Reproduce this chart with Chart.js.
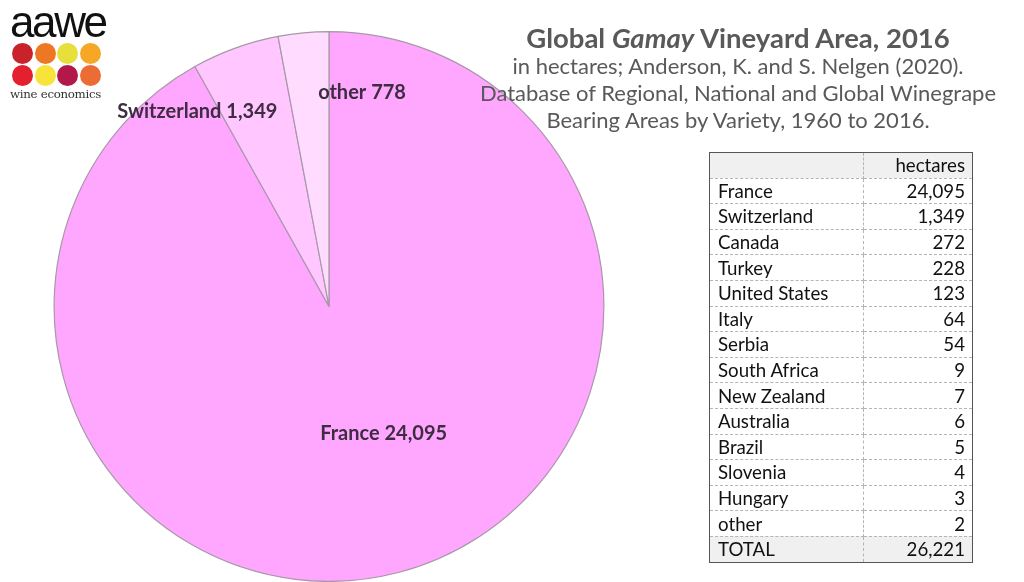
<!DOCTYPE html>
<html>
<head>
<meta charset="utf-8">
<script src="https://cdn.jsdelivr.net/npm/chart.js@4/dist/chart.umd.min.js"></script>
<style>
  body { margin: 0; background: #fff; font-family: Lato, "Open Sans", sans-serif; }
  #wrap { position: relative; width: 1024px; height: 582px; overflow: hidden; background: #fff; }
  #mycanvas { position: absolute; left: 0; top: 0; }
  #logo { position: absolute; left: 10px; top: 2px; width: 100px; }
  #logo .word { font-family: "Liberation Sans", Arial, sans-serif; font-size: 44px; letter-spacing: -2.4px; line-height: 40px; color: #111; }
  #logo .dots { position: relative; height: 46px; }
  #logo .dot { position: absolute; width: 21px; height: 21px; border-radius: 50%; }
  #logo .sub { font-family: "DejaVu Serif", serif; font-size: 11.8px; color: #333; margin-top: -1px; letter-spacing: -0.3px; }
  #title { position: absolute; left: 458px; width: 560px; top: 24px; text-align: center; color: #595959; }
  #title .t { font-weight: bold; font-size: 27.5px; line-height: 28px; }
  #title .s { font-size: 22px; line-height: 27px; }
  #tbl { position: absolute; left: 709px; top: 152px; border-collapse: collapse; border: 1.5px solid #555; font-size: 18.7px; color: #111; }
  #tbl td { border: 1px dashed #b5b5b5; height: 24.6px; padding: 0 7px 0 8px; line-height: 20px; }
  #tbl td.n { text-align: right; }
  #tbl tr.g td { background: #f0f0f0; }
</style>
</head>
<body>
<div id="wrap">
  <canvas id="mycanvas" width="1024" height="582"></canvas>
  <div id="logo">
    <div class="word">aawe</div>
    <div class="dots" id="dots"></div>
    <div class="sub">wine economics</div>
  </div>
  <div id="title">
    <div class="t">Global <i>Gamay</i> Vineyard Area, 2016</div>
    <div class="s">in hectares; Anderson, K. and S. Nelgen (2020).</div>
    <div class="s">Database of Regional, National and Global Winegrape</div>
    <div class="s">Bearing Areas by Variety, 1960 to 2016.</div>
  </div>
  <table id="tbl"></table>
</div>
<script>
// pie slices
var pieLabels = ["France", "Switzerland", "other"];
var pieValues = [24095, 1349, 778];

// table rows
var countries = ["France", "Switzerland", "Canada", "Turkey", "United States", "Italy", "Serbia",
  "South Africa", "New Zealand", "Australia", "Brazil", "Slovenia", "Hungary", "other"];
var hectares = [24095, 1349, 272, 228, 123, 64, 54, 9, 7, 6, 5, 4, 3, 2];
var total = 26221;

var logoColors = ["#c9222b", "#ee7724", "#e6df3c", "#f6a725", "#e41f2e", "#f8e33b", "#b3184b", "#ec6c36"];

function fmt(n) { return n.toLocaleString("en-US"); }

// logo dots
var dotsDiv = document.getElementById("dots");
for (var i = 0; i < logoColors.length; i++) {
  var d = document.createElement("div");
  d.className = "dot";
  d.style.background = logoColors[i];
  d.style.left = (2 + (i % 4) * 22.7) + "px";
  d.style.top = (1 + Math.floor(i / 4) * 22) + "px";
  dotsDiv.appendChild(d);
}

// table
var tbl = document.getElementById("tbl");
var html = '<tr class="g"><td style="width:138px"></td><td class="n" style="width:93px">hectares</td></tr>';
for (var i in countries) {
  html += '<tr><td>' + countries[i] + '</td><td class="n">' + fmt(hectares[i]) + '</td></tr>';
}
html += '<tr class="g"><td>TOTAL</td><td class="n">' + fmt(total) + '</td></tr>';
tbl.innerHTML = html;

// slice labels, drawn next to each arc
var labelOffsets = [[0.5, 20, -6], [0.86, -51, 27], [0.78, 53, 0]];
var sliceLabels = {
  id: "sliceLabels",
  afterDatasetsDraw: function (chart) {
    var ctx = chart.ctx;
    var meta = chart.getDatasetMeta(0);
    ctx.save();
    ctx.font = "bold 20px Lato, 'Open Sans', sans-serif";
    ctx.fillStyle = "#3e2c40";
    ctx.textAlign = "center";
    ctx.textBaseline = "middle";
    meta.data.forEach(function (arc, i) {
      var p = arc.getProps(["x", "y", "startAngle", "endAngle", "outerRadius"], true);
      var mid = (p.startAngle + p.endAngle) / 2;
      var r = p.outerRadius * labelOffsets[i][0];
      var x = p.x + Math.cos(mid) * r + labelOffsets[i][1];
      var y = p.y + Math.sin(mid) * r + labelOffsets[i][2];
      ctx.fillText(pieLabels[i] + " " + fmt(pieValues[i]), x, y);
    });
    ctx.restore();
  }
};

var ctx = document.getElementById("mycanvas");
var pie = new Chart(ctx, {
  type: "pie",
  data: {
    labels: pieLabels,
    datasets: [{
      data: pieValues,
      backgroundColor: ["#ffa6ff", "#ffc6ff", "#ffdcff"],
      borderColor: "#a898a8",
      borderWidth: 1.2
    }]
  },
  options: {
    responsive: false,
    animation: false,
    layout: { padding: { left: 53, top: 31, right: 419, bottom: 0 } },
    plugins: { legend: { display: false }, tooltip: { enabled: false } }
  },
  plugins: [sliceLabels]
});
</script>
</body>
</html>
